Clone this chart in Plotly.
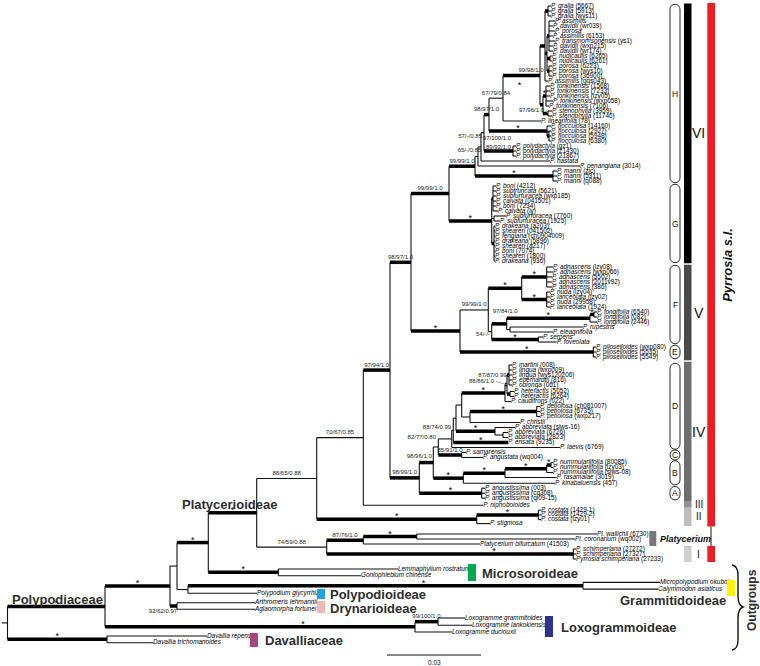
import plotly.graph_objects as go

# ---------------- data ----------------
UNIT = 0.03 / 94          # substitutions per depth unit (scale bar = 0.03)
ROOT_STUB = 1.7
SCALE_BAR = 0.03

H1 = ("(('P. gralla (5667)':551,'P. gralla (5913)':551,'P. gralla (wys11)':551)^:548,"
      "(('P. assimilis':555,'P. davidii (wr039)':553,'P. porosa':555,'P. assimilis (6153)':553,"
      "'P. transmorrisonensis (ys1)':555,'P. davidii (wxp215)':553,'P. davidii (wr174)':553)^:549,"
      "('P. nudicaulis (6265)':552,'P. nudicaulis (6261)':552)^:550,"
      "('P. porosa (6223)':552,'P. porosa (wys10)':552,'P. porosa (36900)':552)^:549)^:547,"
      "'P. assimilis (gqs043)':548)^99/98/1.0#H1:545")
H2 = ("(('P. tonkinensis (1568)':550,'P. tonkinensis (7233)':550,'P. tonkinensis (lzy05)':550,"
      "'P. tonkinensis (wxp058)':553,'P. tonkinensis (7106)':549)^*:546,"
      "('P. stenophylla (3959)':552,'P. stenophylla (11740)':552)^97/96/1.0#ST:548)^:543")
N99 = f"({H1},{H2})^*#N99:540"
N67 = f"({N99},'P. linearifolia (78)':541)67/79/0.84:503"
FLOC = ("('P. flocculosa (14160)':551,('P. flocculosa (2927)':551,'P. flocculosa (5948)':551,"
        "'P. flocculosa (6380)':551)^*:549)^*:547")
N98 = f"({N67},{FLOC})^98/97/1.0:489"
POLYD = "('P. polydactyla (gz1)':516,'P. polydactyla (21430)':516,'P. polydactyla (21867)':516)^89/92/1.0#PD:513"
N97B = f"({N98},{POLYD})97/100/1.0#N97B:484"
N57 = f"({N97B},'P. hastata':550)57/-/0.85#N57:481"
N65 = f"({N57},'P. penangiana (3014)':580)65/-/0.85#N65:478"
MANNI = "('P. manni (zjc)':557,'P. manni (5311)':557,'P. manni (q088)':557)^*:553"
VIA = f"({N65},{MANNI})^99/99/1.0:475"
G1 = ("('P. boni (4212)':496,'P. subtruncata (5621)':496,'P. subfurfuracea (wxp185)':496,"
      "'P. calvata (041501)':496,'P. boni (7234)':496,'P. calvata (ly)':498)^:493")
G2 = "('P. subfurfuracea (7760)':506,'P. subfurfuracea (1925)':500):494"
G3 = ("('P. drakeana (a203)':495,'P. sheareri (041502)':495,'P. fengiana (ch0904009)':495,"
      "'P. drakeana (5896)':495,'P. sheareri (a217)':495,'P. boni (7074)':495,"
      "'P. sheareri (1800)':495,'P. drakeana (936)':495)^:494")
G = f"({G1},{G2},{G3})^*:491.7"
VI = f"({VIA},{G})^99/99/1.0:449"

ADN = ("('P. adnascens (lzy08)':553,'P. adnascens (wxp066)':553,'P. adnascens (5502)':552,"
       "'P. adnascens (2011v92)':552,'P. adnascens (386)':552)^*:546.7")
NL = "('P. nuda (lzy04)':550,'P. lanceolata (lzy02)':550,'P. nuda (29958)':550,'P. lanceolata (1924)':550)^*:546.7"
F1 = f"({ADN},{NL})^*:521.7"
LONG = "(('P. longifolia (6540)':597,'P. longifolia (082)':597)^*:594,'P. longifolia (2446)':597)^*:590"
RE = "('P. rupestris':583,'P. eleagnifolia':553):510"
F2 = f"({LONG},{RE})^97/84/1.0#F2:506.7"
F3 = "('P. serpens':543,'P. foveolata':556.7)^*:538.3"
F23 = f"({F2},{F3})54/-/-#F23:491.7"
F = f"({F1},{F23})99/99/1.0:488.3"
E = "('P. piloselloides (wxp080)':596,'P. piloselloides (5535)':596,'P. piloselloides (5549)':596)^*:593.3"
V = f"({F},{E})^*:460"
VIV = f"({VI},{V})^98/97/1.0:411"

D1B = ("('P. martini (008)':512,'P. lingua (wxp009)':512,'P. lingua (wys120206)':512,"
       "'P. eberhardtii (816)':512,'P. oblonga (061)':512)^87/87/0.99#D1B:509")
HET = "('P. heteractis (5052)':514,'P. heteractis (6264)':514)^:510"
D1A = f"({D1B},{HET})^88/86/1.0#D1A:507"
D1 = f"({D1A},'P. caudifrons (022)':511)^*:505"
PET = "('P. petiolosa (ch081007)':540,'P. petiolosa (6735)':540,'P. petiolosa (wxp217)':540)^*:536.7"
PC = f"({PET},'P. christii':520):470"
DZ = f"({D1},{PC}):461.7"
ABB = "('P. abbreviata (slws-16)':515,('P. abbreviata (6726)':508,'P. abbreviata (2823)':508):503)^*:495"
DY = f"({DZ},{ABB}):456"
DX = f"({DY},'P. ensata (9235)'^*:508):453.3"
D = f"({DX},'P. laevis (6769)':560)88/74/0.99#D:451.7"
C = "('P. samarensis':466,'P. angustata (wq004)':483)^85/91/1.0:461.7"
N82 = f"({D},{C})82/77/0.80#N82:438.3"
NUM = ("(('P. nummulariifolia (80085)':553,'P. nummulariifolia (lzy03)':553)^*:551,"
       "'P. nummulariifolia (slws-08)':553)^*:546.7")
B1 = f"({NUM},'P. rasamalae (3019)':556.7)^*:505"
B = f"({B1},'P. kinabaluensis (457)':555)^*:463.3"
IVA = f"({N82},{B})^98/96/1.0#IVA:433.3"
A = "('P. angustissima (003)':485,'P. angustissima (cq308)':485,'P. angustissima (qi09-15)':485)^*:481.7"
IV = f"({IVA},{A})^98/99/1.0:419.3"
N97 = f"({VIV},{IV})^97/94/1.0:390"
N70 = f"({N97},'P. niphoboloides':483.3)70/67/0.85:363.3"
COST = "('P. costata (1429-1)':541,'P. costata (1429-2)':541,'P. costata (lzy01)':541)^*:538.3"
II = f"({COST},'P. stigmosa':490)^*:476.7"
PYR = f"({N70},{II})88/65/0.88:316.7"
PLWC = "('Pl. wallichii (6730)':597,'Pl. coronarium (wq002)':575)^*:416.7"
PLC = f"({PLWC},'Platycerium bifurcatum (41503)':480)^87/76/1.0:363.3"
SCH = ("('P. schimperiana (27272)':576,'P. schimperiana (27327)':576,"
       "'Pyrrosia schimperiana (27233)':576)^*#SCH:573.3")
PS = f"({PLC},{SCH})74/59/0.88:326.7"
PLATY = f"({PYR},{PS})^*:256.7"
MICRO = "('Lemmaphyllum rostratum':398,'Goniophlebium chinense':361)^*:278.3"
P3 = f"({PLATY},{MICRO})^*:208.3"
GRAM = "('Micropolypodium okuboi':660,'Calymmodon asiaticus':658)^*#GRAM:583"
PG = f"({GRAM},'Polypodium glycyrrhiza':257):188"
P2 = f"({P3},{PG}):177"
DRY = "('Arthromeris lehmannii':255,'Aglaomorpha fortunei':255)^92/62/0.97#DRY:177"
P1 = f"({P2},{DRY})^*:170"
LOXO = ("(('Loxogramme grammitoides':465,'Loxogramme lankokiensis':472)^99/100/1.0:438,"
        "'Loxogramme duclouxii':452)^*#LOXO:415")
POLY = f"({P1},{LOXO})^*:105"
DAV = "('Davallia repens':207,'Davallia trichomanoides':153)^*:107"
TREE = f"({POLY},{DAV}):7.5"

# clade annotation groups (first leaf, last leaf)
OVALS = [("H", "P. gralla (5667)", "P. manni (q088)"),
         ("G", "P. boni (4212)", "P. drakeana (936)"),
         ("F", "P. adnascens (lzy08)", "P. foveolata"),
         ("E", "P. piloselloides (wxp080)", "P. piloselloides (5549)"),
         ("D", "P. martini (008)", "P. laevis (6769)"),
         ("C", "P. samarensis", "P. angustata (wq004)"),
         ("B", "P. nummulariifolia (80085)", "P. kinabaluensis (457)"),
         ("A", "P. angustissima (003)", "P. angustissima (qi09-15)")]
BARS = [("VI", "P. gralla (5667)", "P. drakeana (936)", "#000000", 14),
        ("V", "P. adnascens (lzy08)", "P. piloselloides (5549)", "#4a4a4a", 14),
        ("IV", "P. martini (008)", "P. angustissima (qi09-15)", "#6e6e6e", 14),
        ("III", "P. niphoboloides", "P. niphoboloides", "#939393", 10),
        ("II", "P. costata (1429-1)", "P. stigmosa", "#bdbdbd", 10),
        ("I", "P. schimperiana (27272)", "Pyrrosia schimperiana (27233)", "#cfcfcf", 10)]
RED_GROUPS = [("P. gralla (5667)", "P. stigmosa"),
              ("P. schimperiana (27272)", "Pyrrosia schimperiana (27233)")]
PLATYCERIUM_GROUP = ("Pl. wallichii (6730)", "Platycerium bifurcatum (41503)")

SUBFAMILIES = [  # text, colour-square colour, x(px), y(px)
    ("Polypodiaceae", None, 10, 599),
    ("Platycerioideae", None, 180, 504),
    ("Microsoroideae", "#00a651", 480, 573),
    ("Polypodioideae", "#1ea7e1", 328, 594),
    ("Drynarioideae", "#f5b7b5", 328, 608),
    ("Grammitidoideae", "#fff200", 618, 600),
    ("Loxogrammoideae", "#2e3192", 559, 627),
    ("Davalliaceae", "#a5467e", 263, 640),
]
SQUARES = {"Microsoroideae": (468, 564, 476, 581), "Polypodioideae": (317, 589, 325, 599),
           "Drynarioideae": (317, 601, 325, 613), "Grammitidoideae": (727, 580, 735, 596),
           "Loxogrammoideae": (545, 616, 553, 637), "Davalliaceae": (250, 633, 258, 647)}

# ---------------- layout parameters ----------------
LEAF_FIRST_Y = 6.0
LEAF_STEP = 5.0
LEAF_STEPS = {"P. adnascens (lzy08)": 6, "P. martini (008)": 8, "P. heteractis (5052)": 6.5,
              "P. christii": 6, "P. kinabaluensis (457)": 5.7, "P. niphoboloides": 7,
              "P. costata (1429-2)": 4.7, "P. costata (lzy01)": 4.7, "P. stigmosa": 4,
              "Pl. wallichii (6730)": 10.4, "Lemmaphyllum rostratum": 10,
              "Goniophlebium chinense": 6.7, "Micropolypodium okuboi": 6.7,
              "Calymmodon asiaticus": 6.7, "Polypodium glycyrrhiza": 4.2,
              "Arthromeris lehmannii": 9.4, "Aglaomorpha fortunei": 6.6,
              "Loxogramme grammitoides": 8.7, "Loxogramme lankokiensis": 7.3,
              "Loxogramme duclouxii": 6.7, "Davallia repens": 4, "Davallia trichomanoides": 6.7}
NUDGE = {"H1": (-11.5, 29, False), "N99": (-2, 13, False), "ST": (-14, 2.2, True),
         "N97B": (14.5, 11, False), "PD": (0, 1.5, False), "N57": (-9.5, -5, False),
         "N65": (-7, -1, False), "D1B": (-15.5, 5.7, True), "D1A": (-24.5, 2, True),
         "F2": (6, -7, False), "F23": (-7, 8.3, False), "DRY": (-10.5, 10, False),
         "GRAM": (38, 0, False), "LOXO": (43, 0, False), "SCH": (44, 0, False),
         "IVA": (-7, -1, False), "N82": (-14, -4, False), "D": (-8, -6, False)}
FONT = "Liberation Sans, Arial, sans-serif"


def X(px):
    return px * UNIT


def clean(s):
    out, q = [], False
    for ch in s:
        if ch == "'":
            q = not q
        if not q and ch.isspace():
            continue
        out.append(ch)
    return "".join(out)


def parse(s):
    pos = 0

    def node():
        nonlocal pos
        n = {"children": [], "name": None}
        if s[pos] == "(":
            pos += 1
            while True:
                n["children"].append(node())
                if s[pos] == ",":
                    pos += 1
                    continue
                pos += 1
                break
        elif s[pos] == "'":
            end = s.index("'", pos + 1)
            n["name"] = s[pos + 1:end]
            pos = end + 1
        st = pos
        while s[pos] not in ":,)":
            pos += 1
        lab = s[st:pos]
        n["thick"] = lab.startswith("^")
        lab = lab.lstrip("^")
        n["id"] = None
        if "#" in lab:
            lab, n["id"] = lab.split("#")
        n["label"] = lab
        pos += 1  # ':'
        st = pos
        while pos < len(s) and s[pos] not in ",)":
            pos += 1
        n["depth"] = float(s[st:pos])
        return n

    return node()


root = parse(clean(TREE))
leaves = []


def collect(n):
    if not n["children"]:
        leaves.append(n)
    for c in n["children"]:
        collect(c)


collect(root)
yv = None
for lf in leaves:
    yv = LEAF_FIRST_Y if yv is None else yv + LEAF_STEPS.get(lf["name"], LEAF_STEP)
    lf["y"] = yv
LY = {lf["name"]: lf["y"] for lf in leaves}


def sety(n):
    if n["children"]:
        for c in n["children"]:
            sety(c)
        n["y"] = (n["children"][0]["y"] + n["children"][-1]["y"]) / 2


sety(root)

thin_x, thin_y, thick_x, thick_y = [], [], [], []
star_x, star_y, sup_x, sup_y, sup_t = [], [], [], [], []
ptr_x, ptr_y = [], []
thin_x += [X(ROOT_STUB), X(root["depth"]), None]
thin_y += [root["y"], root["y"], None]


def walk(n, parent):
    if parent is not None:
        if n["thick"]:
            thick_x.extend([X(parent["depth"]), X(n["depth"]), None])
            thick_y.extend([n["y"], n["y"], None])
        else:
            thin_x.extend([X(parent["depth"]), X(n["depth"]), None])
            thin_y.extend([n["y"], n["y"], None])
        if n["label"]:
            dx, dy, ptr = NUDGE.get(n["id"], (0, 0, False))
            mx = (parent["depth"] + n["depth"]) / 2 + dx
            if n["label"] == "*":
                star_x.append(X(mx))
                star_y.append(n["y"] - 2.2 + dy)
            else:
                ly = n["y"] - 5 + dy
                sup_x.append(X(mx))
                sup_y.append(ly)
                sup_t.append(n["label"])
                if ptr:
                    hw = len(n["label"]) * 1.6
                    ptr_x.extend([X(mx + hw), X(n["depth"]), None])
                    ptr_y.extend([ly, n["y"], None])
    if n["children"]:
        thin_x.extend([X(n["depth"]), X(n["depth"]), None])
        thin_y.extend([n["children"][0]["y"], n["children"][-1]["y"], None])
    for c in n["children"]:
        walk(c, n)


walk(root, None)


def fmt_leaf(name):
    if " (" in name:
        i = name.index(" (")
        return f"<i>{name[:i]}</i>{name[i:]}"
    return f"<i>{name}</i>"


fig = go.Figure()
fig.add_trace(go.Scatter(x=thin_x, y=thin_y, mode="lines", line=dict(color="#111111", width=1.1),
                         hoverinfo="skip", showlegend=False))
fig.add_trace(go.Scatter(x=thick_x, y=thick_y, mode="lines", line=dict(color="#000000", width=3.5),
                         hoverinfo="skip", showlegend=False))
fig.add_trace(go.Scatter(x=ptr_x, y=ptr_y, mode="lines", line=dict(color="#9a9a9a", width=0.8),
                         hoverinfo="skip", showlegend=False))
fig.add_trace(go.Scatter(x=[X(lf["depth"]) for lf in leaves], y=[lf["y"] for lf in leaves],
                         mode="text", text=[fmt_leaf(lf["name"]) for lf in leaves],
                         textposition="middle right", marker=dict(size=1),
                         textfont=dict(family=FONT, size=6.4, color="#000000"),
                         hoverinfo="skip", showlegend=False))
fig.add_trace(go.Scatter(x=sup_x, y=sup_y, mode="text", text=sup_t, textposition="middle center",
                         textfont=dict(family=FONT, size=6, color="#222222"),
                         hoverinfo="skip", showlegend=False))
fig.add_trace(go.Scatter(x=star_x, y=star_y, mode="text", text=["*"] * len(star_x),
                         textposition="middle center",
                         textfont=dict(family=FONT, size=9, color="#000000"),
                         hoverinfo="skip", showlegend=False))

shapes, annotations = [], []


def oval_path(x0, x1, y0, y1):
    r = (x1 - x0) / 2
    k = 0.5523 * r
    xm = (x0 + x1) / 2
    yt, yb = y0 + r, y1 - r
    P = lambda a, b: f"{X(a)},{b}"
    return (f"M {P(x0, yt)} C {P(x0, yt - k)} {P(xm - k, y0)} {P(xm, y0)} "
            f"C {P(xm + k, y0)} {P(x1, yt - k)} {P(x1, yt)} L {P(x1, yb)} "
            f"C {P(x1, yb + k)} {P(xm + k, y1)} {P(xm, y1)} "
            f"C {P(xm - k, y1)} {P(x0, yb + k)} {P(x0, yb)} Z")


for letter, a, b in OVALS:
    ya, yb_ = LY[a], LY[b]
    cy = (ya + yb_) / 2
    half = max(5, (yb_ - ya) / 2 + 1.75)
    shapes.append(dict(type="path", path=oval_path(670, 680, cy - half, cy + half),
                       line=dict(color="#111111", width=0.9), fillcolor="white", layer="above"))
    annotations.append(dict(x=X(675), y=cy, text=letter, showarrow=False,
                            font=dict(family=FONT, size=8.5, color="#111111")))

# clade bars
bounds = []
for i, (nm, a, b, col, fs) in enumerate(BARS):
    bounds.append([LY[a] - 2.5, LY[b] + 2.5])
for i in range(len(BARS) - 1):
    lo, hi = bounds[i][1], bounds[i + 1][0]
    if hi < lo + 6 and BARS[i + 1][0] != "I":
        mid = (LY[BARS[i][2]] + LY[BARS[i + 1][1]]) / 2
        gap = 1.5 if BARS[i][0] in ("VI", "V") else 0
        bounds[i][1], bounds[i + 1][0] = mid - gap / 2, mid + gap / 2
for (nm, a, b, col, fs), (t, bt) in zip(BARS, bounds):
    if nm == "I":
        t, bt = LY[a] - 3, LY[b] + 3
    shapes.append(dict(type="rect", x0=X(684), x1=X(691.5), y0=t, y1=bt,
                       fillcolor=col, line=dict(width=0), layer="above"))
    annotations.append(dict(x=X(698.5), y=(t + bt) / 2, text=nm, showarrow=False,
                            font=dict(family=FONT, size=fs, color="#111111")))

red_spans = [(LY[a] - 3, LY[b] + 3) for a, b in RED_GROUPS]
for t, bt in red_spans:
    shapes.append(dict(type="rect", x0=X(707.3), x1=X(715), y0=t, y1=bt,
                       fillcolor="#ed1c24", line=dict(width=0), layer="above"))
shapes.append(dict(type="line", x0=X(711), x1=X(711), y0=red_spans[0][1], y1=red_spans[1][0],
                   line=dict(color="#111111", width=1)))
annotations.append(dict(x=X(728), y=(red_spans[0][0] + red_spans[0][1]) / 2, text="<b><i>Pyrrosia s.l.</i></b>",
                        showarrow=False, textangle=-90,
                        font=dict(family=FONT, size=13, color="#111111")))

pa, pb = PLATYCERIUM_GROUP
shapes.append(dict(type="rect", x0=X(649.3), x1=X(656.3), y0=LY[pa] - 3, y1=LY[pb] + 2,
                   fillcolor="#777777", line=dict(width=0)))
annotations.append(dict(x=X(657.5), y=(LY[pa] + LY[pb]) / 2, xanchor="left",
                        text="<b><i>Platycerium</i></b>", showarrow=False,
                        font=dict(family=FONT, size=9, color="#111111")))

for txt, col, px, py in SUBFAMILIES:
    annotations.append(dict(x=X(px), y=py, xanchor="left", text=f"<b>{txt}</b>", showarrow=False,
                            font=dict(family=FONT, size=13, color="#2e2e2e")))
    if col:
        x0, y0, x1, y1 = SQUARES[txt]
        shapes.append(dict(type="rect", x0=X(x0), x1=X(x1), y0=y0, y1=y1, fillcolor=col,
                           line=dict(width=0)))

# outgroup brace
bp = [(732, 565), (738, 566), (738, 575), (738, 596), (738, 603), (740, 606), (743, 607),
      (740, 608), (738, 611), (738, 618), (738, 640), (738, 649), (732, 650)]
brace = (f"M {X(bp[0][0])},{bp[0][1]} Q {X(bp[1][0])},{bp[1][1]} {X(bp[2][0])},{bp[2][1]} "
         f"L {X(bp[3][0])},{bp[3][1]} Q {X(bp[4][0])},{bp[4][1]+2} {X(bp[6][0])},{bp[6][1]} "
         f"Q {X(bp[8][0])},{bp[8][1]-2} {X(bp[9][0])},{bp[9][1]} "
         f"L {X(bp[10][0])},{bp[10][1]} Q {X(bp[11][0])},{bp[11][1]} {X(bp[12][0])},{bp[12][1]}")
shapes.append(dict(type="path", path=brace, line=dict(color="#111111", width=1.4)))
annotations.append(dict(x=X(752), y=600, text="<b>Outgroups</b>", showarrow=False, textangle=-90,
                        font=dict(family=FONT, size=12, color="#2e2e2e")))

# scale bar
SB_X0 = X(387)
fig.add_trace(go.Scatter(x=[SB_X0, SB_X0 + SCALE_BAR], y=[655, 655], mode="lines",
                         line=dict(color="#111111", width=1.1), hoverinfo="skip", showlegend=False))
annotations.append(dict(x=SB_X0 + SCALE_BAR / 2, y=662, text="0.03", showarrow=False,
                        font=dict(family=FONT, size=6.5, color="#111111")))

fig.update_layout(
    width=760, height=666, margin=dict(l=0, r=0, t=0, b=0),
    paper_bgcolor="white", plot_bgcolor="white",
    xaxis=dict(range=[0, X(760)], visible=False, fixedrange=True),
    yaxis=dict(range=[666, 0], visible=False, fixedrange=True),
    shapes=shapes, annotations=annotations, hovermode=False,
)
fig.write_html("out.html", config={"displayModeBar": False, "staticPlot": True},
               post_script="document.body.style.margin='0';document.body.style.overflow='hidden';")
